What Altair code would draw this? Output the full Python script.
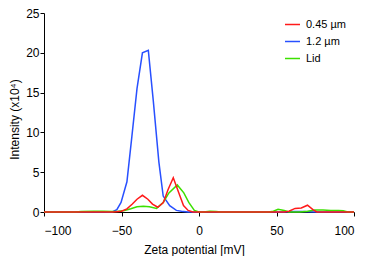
import altair as alt
import pandas as pd

# Zeta potential [mV] and intensity (x10^4) per sample
blue_x = [-100, -56, -53, -50.3, -46.5, -43.3, -40, -36.5, -32.7, -29.5, -25.9, -23.1, -18.9, -14.6, -11.3, -7, 55, 60, 67, 75, 100]
blue_y = [0, 0, 0.3, 1.2, 3.8, 9.5, 15.5, 20.0, 20.3, 14.0, 6.3, 2.0, 0.8, 0.2, 0.1, 0, 0, 0.05, 0.05, 0, 0]

green_x = [-100, -80, -76, -68, -62, -56, -52, -48, -44, -40, -35.9, -32, -27.4, -23.1, -19.4, -14, -9.8, -6.6, -3, 0, 3, 7, 11, 14,
           45, 48, 51, 55, 58, 65, 70, 75, 80, 85, 90, 93, 96, 100]
green_y = [0, 0, 0.05, 0.1, 0.1, 0.05, 0.1, 0.2, 0.4, 0.65, 0.72, 0.65, 0.45, 1.2, 2.4, 3.4, 2.4, 1.2, 0.2, 0, 0, 0.1, 0.05, 0,
           0, 0.1, 0.35, 0.2, 0, 0, 0.1, 0.25, 0.25, 0.2, 0.2, 0.15, 0, 0]

red_x = [-100, -55, -50, -46.5, -43, -40, -36.5, -33, -30, -26.6, -23, -20, -16.6, -13, -10, -7, -4, 55, 58, 62, 66, 70, 73.5, 76, 100]
red_y = [0, 0, 0.1, 0.4, 1.0, 1.6, 2.1, 1.6, 1.0, 0.6, 1.2, 2.8, 4.3, 2.4, 0.8, 0.2, 0, 0, 0.1, 0.45, 0.5, 0.85, 0.3, 0, 0]

series = ["0.45 µm", "1.2 µm", "Lid"]
colors = ["#ff1a1a", "#2850ff", "#3ce000"]

rows = []
for name, xs, ys in [("1.2 µm", blue_x, blue_y), ("Lid", green_x, green_y), ("0.45 µm", red_x, red_y)]:
    for i, (a, b) in enumerate(zip(xs, ys)):
        rows.append({"sample": name, "zeta": a, "intensity": b, "i": i})
df = pd.DataFrame(rows)

font = "Liberation Sans"

chart = alt.Chart(df).mark_line(strokeWidth=1.5).encode(
    x=alt.X("zeta:Q", scale=alt.Scale(domain=[-100, 100], nice=False),
            axis=alt.Axis(values=[-100, -50, 0, 50, 100], title="Zeta potential [mV]",
                          labelPadding=9, tickSize=4, titleBaseline="alphabetic",
                          titleY=41, titleX=150, titleAnchor="middle")),
    y=alt.Y("intensity:Q", scale=alt.Scale(domain=[0, 25], nice=False),
            axis=alt.Axis(values=[0, 5, 10, 15, 20, 25], title="Intensity (x10⁴)",
                          labelPadding=1, tickSize=4, titleX=-26, titleY=106,
                          titleAngle=-90, titleBaseline="alphabetic", titleAlign="center")),
    color=alt.Color("sample:N", scale=alt.Scale(domain=series, range=colors),
                    legend=alt.Legend(title=None, orient="none", legendX=240, legendY=3,
                                      symbolType="stroke", symbolSize=225, symbolStrokeWidth=1.5,
                                      labelFontSize=11, labelOffset=5, rowPadding=3, padding=0,
                                      labelColor="#000", labelFont=font)),
    order="i:Q",
).properties(
    width=310, height=199,
    autosize=alt.AutoSizeParams(type="none"),
    padding={"left": 36, "top": 5, "right": 12, "bottom": 44},
).configure_view(stroke=None).configure_axis(
    grid=False, domainColor="#000", tickColor="#000", labelColor="#000", titleColor="#000",
    labelFont=font, titleFont=font, labelFontSize=12, titleFontSize=12, titleFontWeight="normal",
    domainWidth=1, tickWidth=1,
)

chart.save("out.html", embed_options={"renderer": "svg", "actions": False})
